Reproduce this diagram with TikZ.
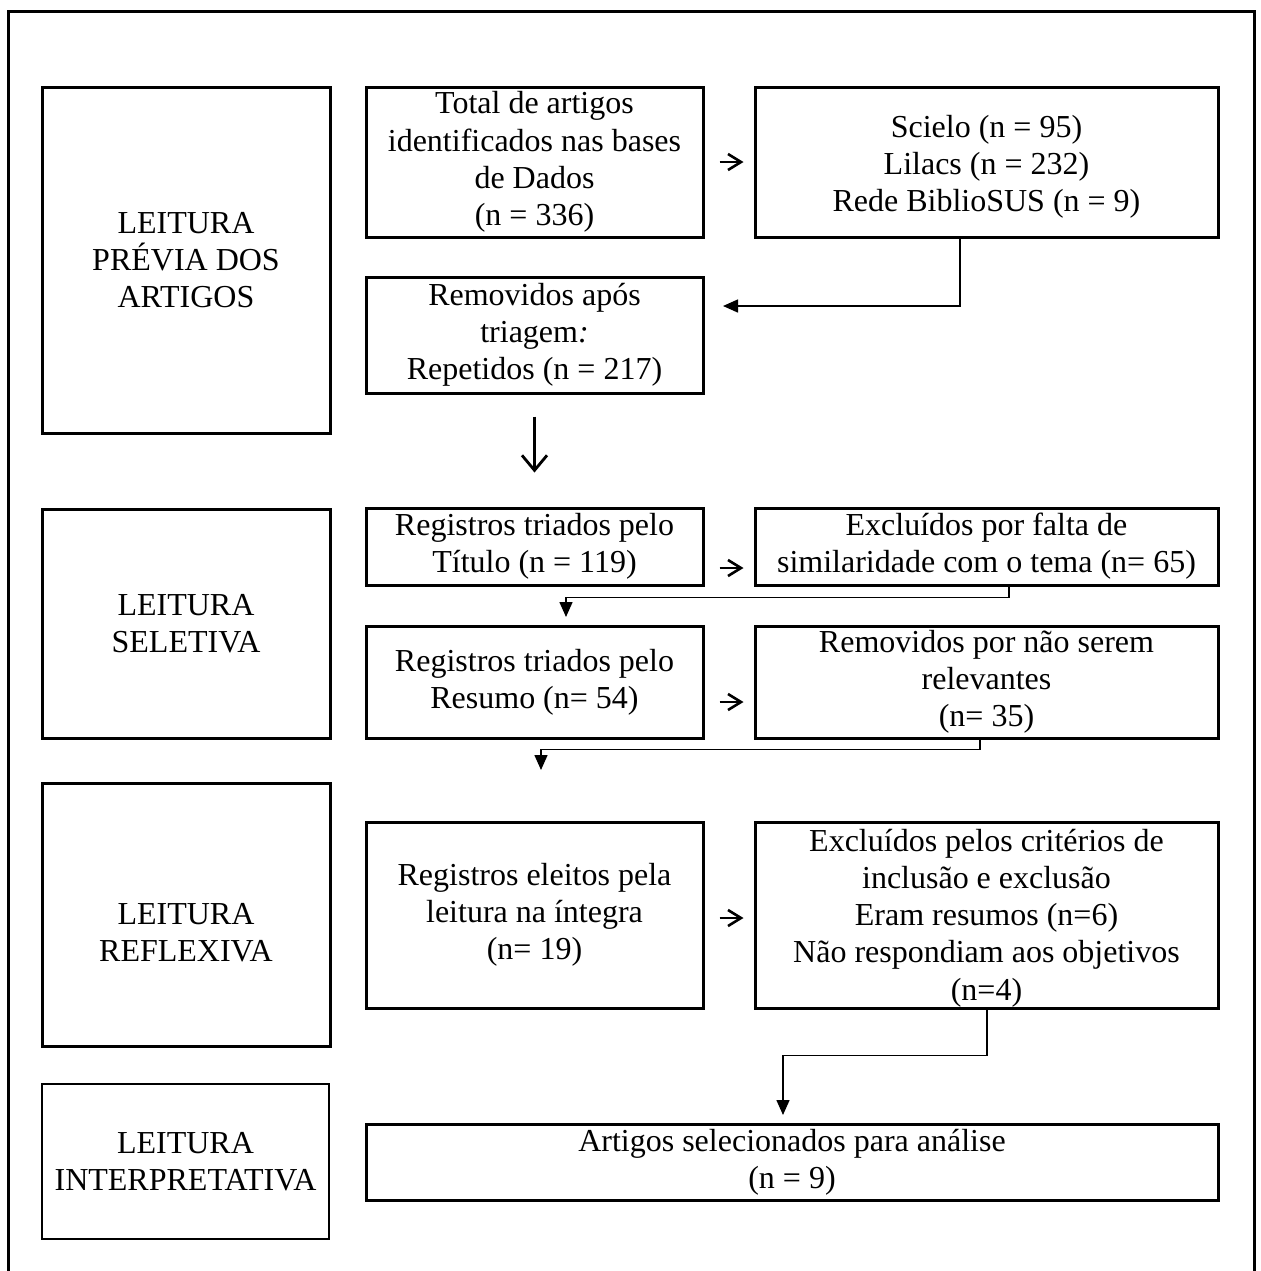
\documentclass[tikz,border=0pt]{standalone}
\usepackage{fontspec}
\setmainfont{Liberation Serif}
\usetikzlibrary{arrows.meta}
\begin{document}
\begin{tikzpicture}[x=0.5pt,y=-0.5pt,
  txt/.style={align=center, inner sep=0pt, font=\fontsize{16}{18.6}\selectfont},
  box/.style={txt, draw, line width=1.5pt},
  lbox/.style={box, minimum width=144pt},
  mbox/.style={box, minimum width=168.5pt},
  rbox/.style={box, minimum width=231.5pt},
  conn/.style={line width=0.75pt, -{Triangle[length=7.5pt,width=6.5pt]}},
  glyph/.style={line width=1.3pt, -{Straight Barb[length=6.5pt,width=8pt]}},
  bigglyph/.style={line width=1.4pt, -{Straight Barb[length=7.5pt,width=12.5pt]}}]
\useasboundingbox (0,0) rectangle (1261,1271);
\draw[line width=1.5pt] (8,1271) -- (8,11) -- (1254,11) -- (1254,1271);

% left column
\node[lbox, minimum height=173pt] (L1) at (186,260) {LEITURA\\PRÉVIA DOS\\ARTIGOS};
\node[lbox, minimum height=114.5pt] (L2) at (186,623.5) {LEITURA\\SELETIVA};
\node[lbox, minimum height=131.5pt] (L3) at (186,914.5) {};
\node[txt] (L3t) at ([yshift=-9pt]L3.center) {LEITURA\\REFLEXIVA};
\node[box, line width=1pt, minimum width=143.5pt, minimum height=77.5pt] (L4) at (185.5,1161.5) {LEITURA\\INTERPRETATIVA};

% middle column
\node[mbox, minimum height=75pt] (M1) at (534.5,162) {Total de artigos\\identificados nas bases\\de Dados\\(n = 336)};
\node[mbox, minimum height=58pt] (M2) at (534.5,335) {Removidos após\\triagem\textit{:}\\Repetidos (n = 217)};
\node[mbox, minimum height=38.5pt] (M3) at (534.5,546.5) {Registros triados pelo\\Título (n = 119)};
\node[mbox, minimum height=56pt] (M4) at (534.5,682) {Registros triados pelo\\Resumo (n= 54)};
\node[mbox, minimum height=93pt] (M5) at (534.5,915) {Registros eleitos pela\\leitura na íntegra\\(n= 19)};

% right column
\node[rbox, minimum height=75pt] (R1) at (986.5,162) {};
\node[txt] (R1t) at ([yshift=-2.5pt]R1.center) {Scielo (n = 95)\\Lilacs (n = 232)\\Rede BiblioSUS (n = 9)};
\node[rbox, minimum height=38.5pt] (R3) at (986.5,546.5) {Excluídos por falta de\\similaridade com o tema (n= 65)};
\node[rbox, minimum height=56pt] (R4) at (986.5,682) {Removidos por não serem\\relevantes\\(n= 35)};
\node[rbox, minimum height=93pt] (R5) at (986.5,915) {};
\node[txt] (R5t) at ([yshift=-1.5pt]R5.center) {Excluídos pelos critérios de\\inclusão e exclusão\\Eram resumos (n=6)\\Não respondiam aos objetivos\\(n=4)};

% final
\node[box, minimum width=426pt, minimum height=38pt] (F) at (792,1162) {Artigos selecionados para análise\\(n = 9)};

% glyph-like arrows
\draw[glyph] ([xshift=7.5pt]M1.east) -- ([xshift=-5pt]R1.west);
\draw[glyph] ([xshift=7.5pt,yshift=-10.75pt]M3.east) -- ([xshift=-5pt,yshift=-10.75pt]R3.west);
\draw[glyph] ([xshift=7.5pt,yshift=-10pt]M4.east) -- ([xshift=-5pt,yshift=-10pt]R4.west);
\draw[glyph] ([xshift=7.5pt,yshift=-1.5pt]M5.east) -- ([xshift=-5pt,yshift=-1.5pt]R5.west);
\draw[bigglyph] ([yshift=-11pt]M2.south) -- ([yshift=17pt]M3.north);

% elbow connectors
\coordinate (t1) at (723,306);
\draw[conn] ([xshift=-13.25pt]R1.south) |- (t1);
\coordinate (t2) at (566,617);
\draw[conn] ([xshift=11.25pt]R3.south) -- ++(0,11) -| (t2);
\coordinate (t3) at (541,770);
\draw[conn] ([xshift=-3.25pt]R4.south) -- ++(0,10) -| (t3);
\coordinate (t4) at (783,1115);
\draw[conn] ([xshift=0.25pt]R5.south) -- ++(0,46) -| (t4);
\end{tikzpicture}
\end{document}
